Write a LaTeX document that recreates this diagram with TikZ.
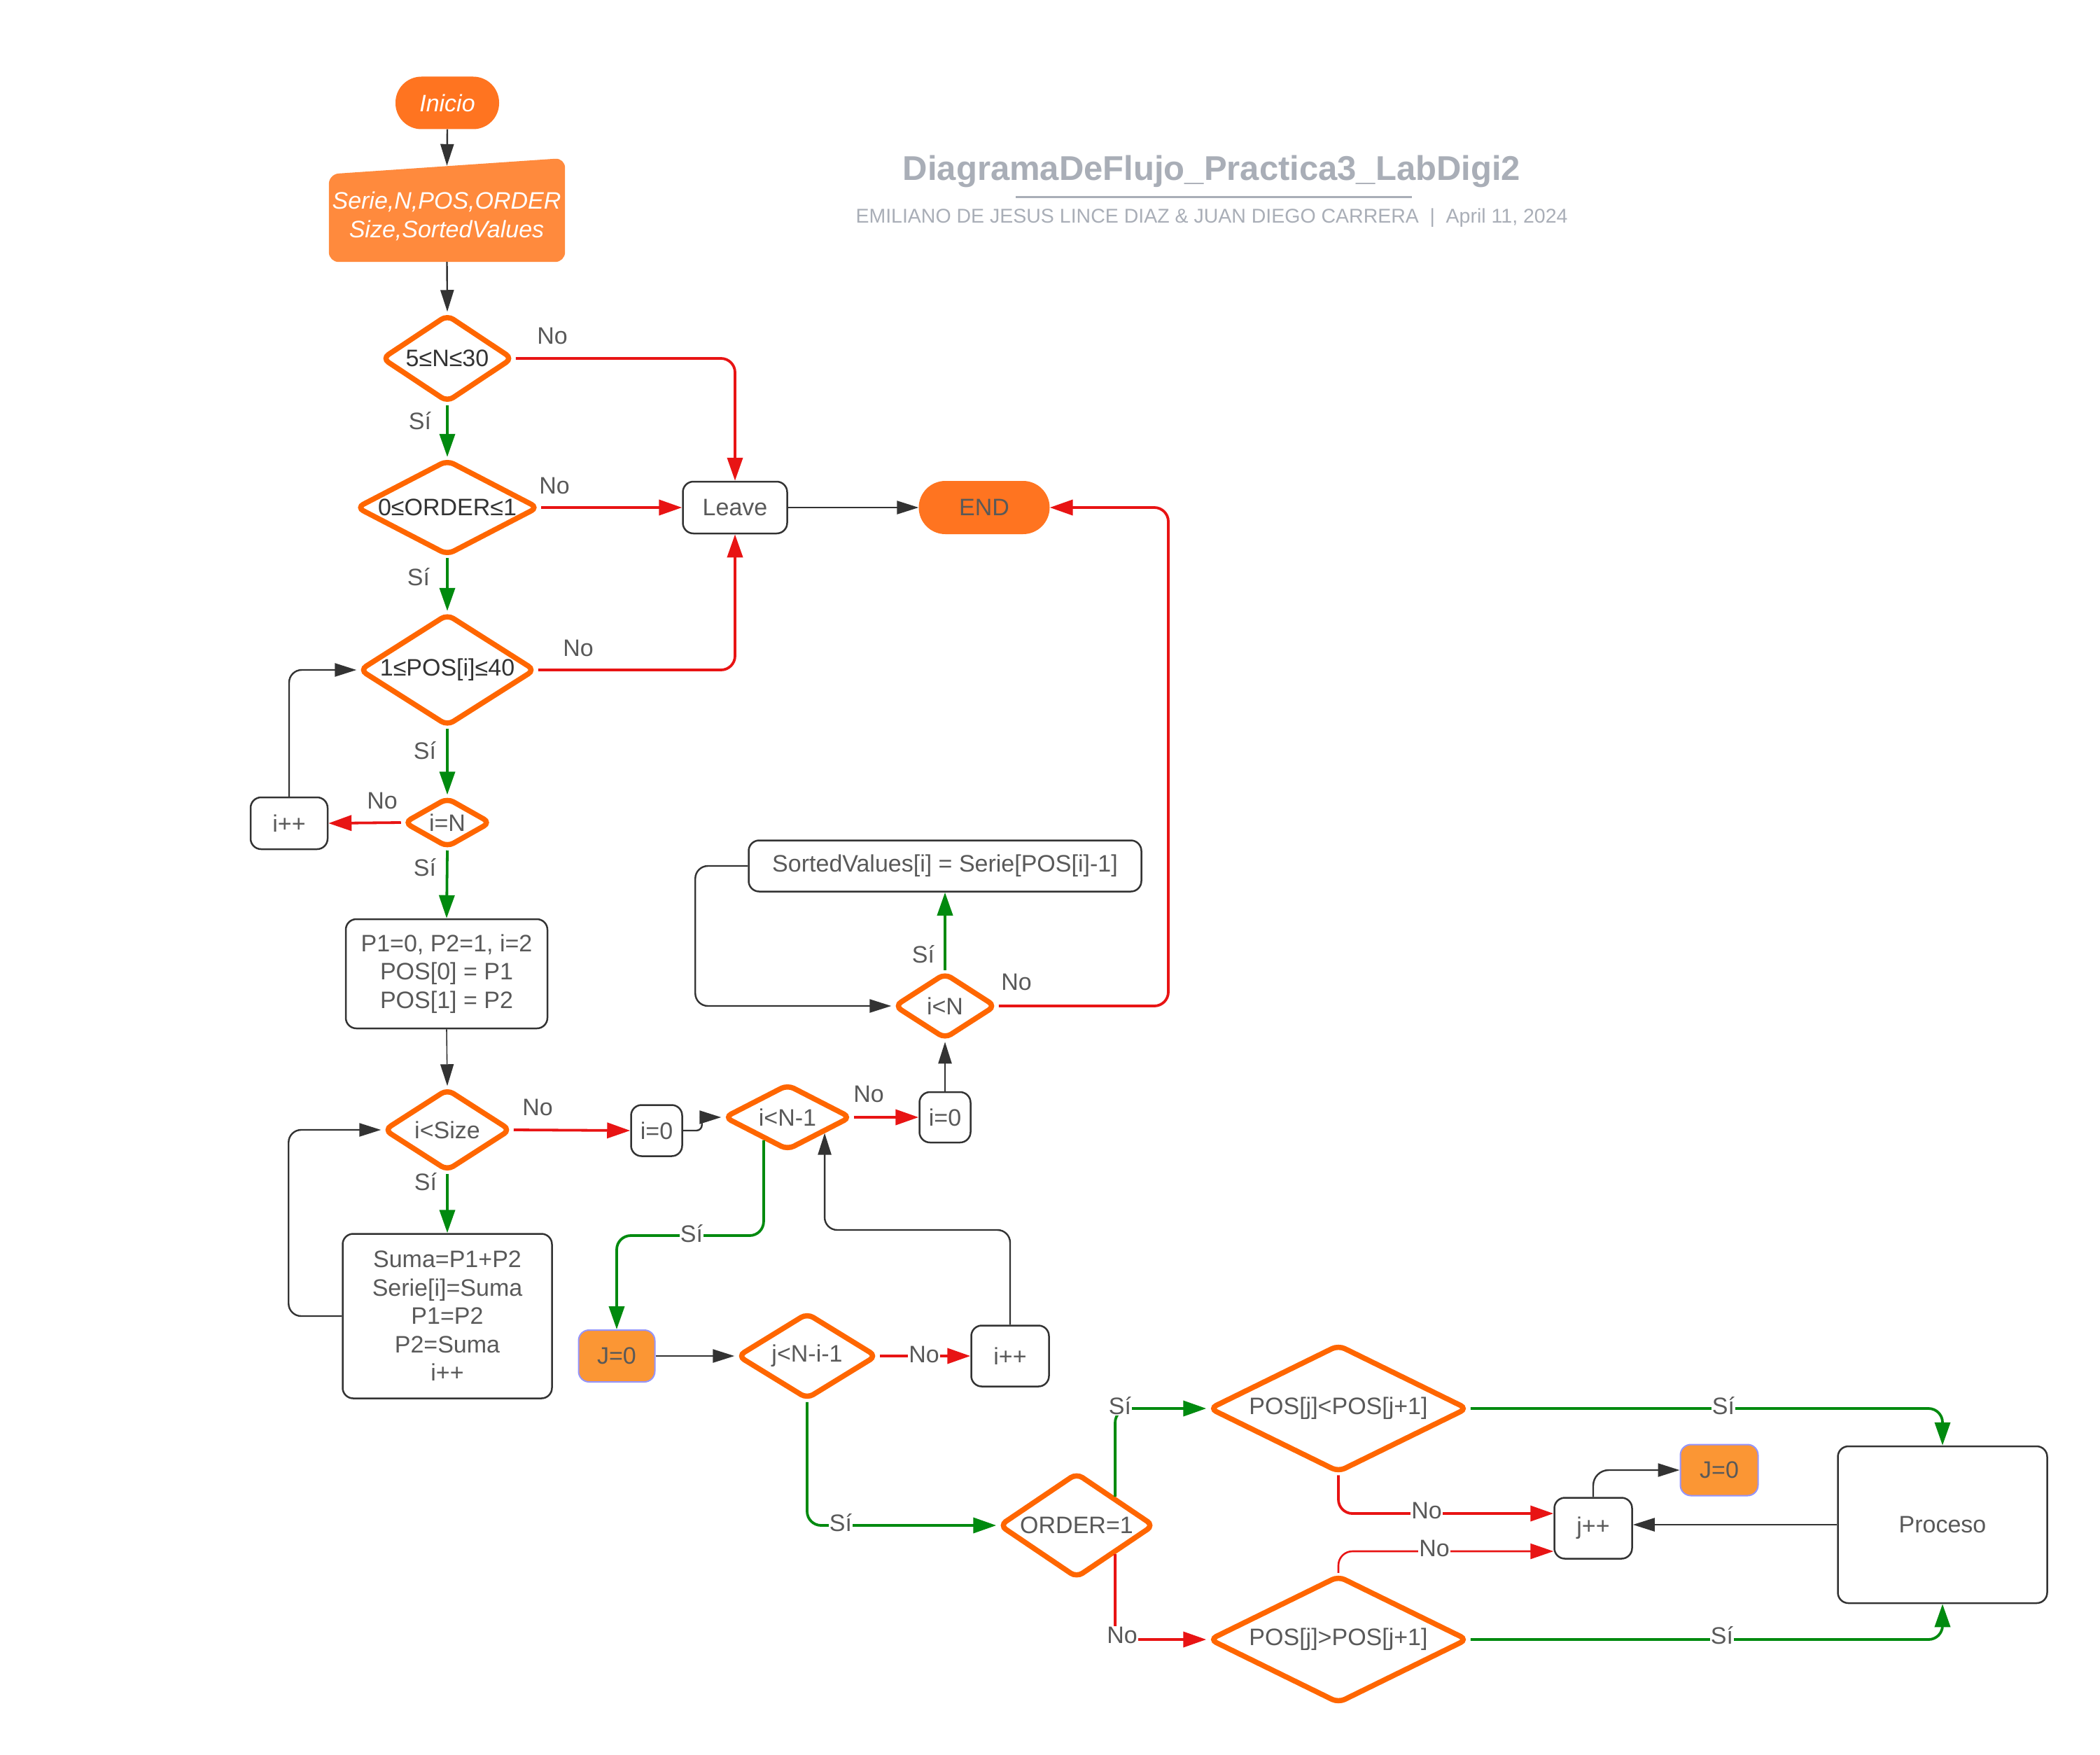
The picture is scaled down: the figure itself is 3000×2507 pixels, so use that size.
\documentclass[tikz,border=0pt]{standalone}
\usepackage{fontspec}
\setmainfont{Liberation Sans}
\usetikzlibrary{shapes.geometric,arrows.meta,calc}
\definecolor{orB}{HTML}{FF6600}
\definecolor{orF}{HTML}{FF7420}
\definecolor{orIn}{HTML}{FF8A3D}
\definecolor{orJ}{HTML}{FB9634}
\definecolor{bluJ}{HTML}{9494FF}
\definecolor{rd}{HTML}{E81414}
\definecolor{gn}{HTML}{008A0F}
\definecolor{bk}{HTML}{333333}
\definecolor{tx}{HTML}{595959}
\definecolor{ttl}{HTML}{A9AEB7}
\newcommand{\zw}[1]{\makebox[0pt]{#1}}
\begin{document}
\begin{tikzpicture}[x=1pt,y=-1pt,
  base/.style={font=\fontsize{34}{40.5}\selectfont, text=tx, align=center, inner sep=0pt},
  diam/.style={base, diamond, draw=orB, line width=7.5pt, rounded corners=10pt, fill=white},
  box/.style={base, rectangle, draw=bk, line width=2.5pt, rounded corners=15pt, fill=white},
  term/.style={base, rectangle, fill=orF, rounded corners=37pt},
  jbox/.style={base, rectangle, fill=orJ, draw=bluJ, line width=2pt, rounded corners=15pt},
  karr/.style={draw=bk, line width=2.4pt, -{Triangle[length=31pt,width=19pt]}, rounded corners=18pt},
  rarr/.style={draw=rd, line width=3.8pt, -{Triangle[length=33pt,width=22pt]}, rounded corners=20pt},
  garr/.style={draw=gn, line width=3.8pt, -{Triangle[length=33pt,width=22pt]}, rounded corners=20pt},
  lbl/.style={base},
  onl/.style={base, fill=white, inner sep=1pt}]
\fill[white] (0,0) rectangle (3000,2507);
\useasboundingbox (0,0) rectangle (3000,2507);

% title block
\node[font=\fontsize{49}{58}\selectfont\bfseries, text=ttl, anchor=base, inner sep=0pt] (title) at (1731,258) {DiagramaDeFlujo\_Practica3\_LabDigi2};
\draw[ttl, line width=3.5pt] (1451,281.5) -- (2017,281.5);
\node[font=\fontsize{28.5}{34}\selectfont, text=ttl, anchor=base, inner sep=0pt] (subtitle) at (1731,319) {EMILIANO DE JESUS LINCE DIAZ \& JUAN DIEGO CARRERA\hspace{0.55em}|\hspace{0.55em}April 11, 2024};

% terminals and input
\node[term, minimum width=148pt, minimum height=75pt, text=white, font=\fontsize{34}{40}\selectfont\itshape] (ini) at (639,147) {Inicio};
\node[minimum width=337pt, minimum height=137pt, inner sep=0pt] (inp) at (638.5,305.5) {};
\fill[orIn, rounded corners=14pt] (inp.south west) -- ($(inp.north west)+(0,12)$) -- ($(inp.north east)+(0,-11)$) -- (inp.south east) -- cycle;
\node[base, text=white, font=\fontsize{34}{40.5}\selectfont\itshape] (inptxt) at (638,309) {Serie,N,POS,ORDER\\Size,SortedValues};
\node[term, minimum width=187pt, minimum height=76pt, rounded corners=38pt] (endn) at (1406,725) {END};

% diamonds
\node[diam, text=bk, minimum width=188pt, minimum height=126pt] (d1) at (639,512) {\zw{5≤N≤30}};
\node[diam, text=bk, minimum width=261pt, minimum height=137pt] (d2) at (639,725) {\zw{0≤ORDER≤1}};
\node[diam, text=bk, minimum width=252pt, minimum height=161pt] (d3) at (639,957) {\zw{1≤POS[i]≤40}};
\node[diam, minimum width=125pt, minimum height=72pt] (d4) at (639,1175) {\zw{i=N}};
\node[diam, minimum width=182pt, minimum height=118pt] (d5) at (639,1614) {\zw{i<Size}};
\node[diam, minimum width=182pt, minimum height=95pt] (d6) at (1125,1596) {\zw{i<N-1}};
\node[diam, minimum width=146pt, minimum height=95pt] (d7) at (1350,1437) {\zw{i<N}};
\node[diam, minimum width=200pt, minimum height=124pt] (d8) at (1153,1937) {\zw{j<N-i-1}};
\node[diam, minimum width=222pt, minimum height=151pt] (d9) at (1538,2179) {\zw{ORDER=1}};
\node[diam, minimum width=370pt, minimum height=183pt] (d10) at (1912,2012) {\zw{POS[j]<POS[j+1]}};
\node[diam, minimum width=370pt, minimum height=183pt] (d11) at (1912,2342) {\zw{POS[j]>POS[j+1]}};

% boxes
\node[box, minimum width=149pt, minimum height=74pt] (leave) at (1050,725) {Leave};
\node[box, minimum width=110pt, minimum height=74pt] (ipp1) at (413,1176) {i++};
\node[box, minimum width=288pt, minimum height=156pt] (p1box) at (638,1391) {P1=0, P2=1, i=2\\POS[0] = P1\\POS[1] = P2};
\node[box, minimum width=299pt, minimum height=235pt] (sumbox) at (639,1880) {Suma=P1+P2\\Serie[i]=Suma\\P1=P2\\P2=Suma\\i++};
\node[box, minimum width=73pt, minimum height=73pt] (i0a) at (938,1615) {i=0};
\node[box, minimum width=73pt, minimum height=72pt] (i0b) at (1350,1596) {i=0};
\node[box, minimum width=561pt, minimum height=73pt] (sorted) at (1350,1237) {SortedValues[i] = Serie[POS[i]-1]};
\node[jbox, minimum width=109pt, minimum height=74pt] (j0a) at (881,1937) {J=0};
\node[box, minimum width=111pt, minimum height=87pt] (ipp2) at (1443,1937) {i++};
\node[box, minimum width=111pt, minimum height=87pt] (jpp) at (2276,2183) {j++};
\node[jbox, minimum width=111pt, minimum height=73pt] (j0b) at (2456,2100) {J=0};
\node[box, minimum width=299pt, minimum height=224pt] (proc) at (2775,2178) {Proceso};

% helper points on diamond edges
\coordinate (d6l) at ($(d6.south)!0.36!(d6.west)$);
\coordinate (d6r) at ($(d6.south)!0.56!(d6.east)$);
\coordinate (d9ur) at ($(d9.north)!0.48!(d9.east)$);
\coordinate (d9lr) at ($(d9.south)!0.48!(d9.east)$);

% connectors
\draw[karr] (ini.south) -- (inp.north);
\draw[karr] (inp.south) -- (d1.north);
\draw[garr] (d1.south) -- (d2.north);
\draw[rarr] (d1.east) -| (leave.north);
\draw[rarr] (d2.east) -- (leave.west);
\draw[karr] (leave.east) -- (endn.west);
\draw[garr] (d2.south) -- (d3.north);
\draw[rarr] (d3.east) -| (leave.south);
\draw[garr] (d3.south) -- (d4.north);
\draw[rarr] (d4.west) -- (ipp1.east);
\draw[karr] (ipp1.north) |- (d3.west);
\draw[garr] (d4.south) -- (p1box.north);
\draw[karr, line width=1.6pt] (p1box.south) -- (d5.north);
\draw[garr] (d5.south) -- (sumbox.north);
\draw[karr] (sumbox.west) -- ++(-76,0) |- (d5.west);
\draw[rarr] (d5.east) -- (i0a.west);
\draw[karr, rounded corners=8pt] (i0a.east) -- ++(27,0) |- (d6.west);
\draw[rarr] (d6.east) -- (i0b.west);
\draw[karr] (i0b.north) -- (d7.south);
\draw[garr] (d7.north) -- (sorted.south);
\draw[karr] (sorted.west) -- ++(-75,0) |- (d7.west);
\draw[rarr] (d7.east) -- (1669,1437) |- (endn.east);
\draw[garr] (d6l) |- (j0a.north |- 0,1765) -- (j0a.north);
\draw[karr] (ipp2.north) |- (d6r |- 0,1757) -- (d6r);
\draw[karr] (j0a.east) -- (d8.west);
\draw[rarr] (d8.east) -- (ipp2.west);
\draw[garr] (d8.south) |- (d9.west);
\draw[garr] (d9ur) |- (d10.west);
\draw[rarr] (d9lr) |- (d11.west);
\draw[garr] (d10.east) -| (proc.north);
\draw[garr] (d11.east) -| (proc.south);
\draw[rarr] (d10.south) |- (jpp.west |- 0,2162);
\draw[rarr, line width=2.6pt] (d11.north) |- (jpp.west |- 0,2216);
\draw[karr] (proc.west) -- (proc.west -| jpp.east);
\draw[karr, rounded corners=22pt] (jpp.north) |- (j0b.west);

% labels
\node[lbl] (l1) at (789,480) {No};
\node[lbl] (l2) at (600,601) {Sí};
\node[lbl] (l3) at (792,694) {No};
\node[lbl] (l4) at (598,824) {Sí};
\node[lbl] (l5) at (826,926) {No};
\node[lbl] (l6) at (607,1072) {Sí};
\node[lbl] (l7) at (546,1144) {No};
\node[lbl] (l8) at (607,1239) {Sí};
\node[lbl] (l9) at (768,1582) {No};
\node[lbl] (l10) at (608,1688) {Sí};
\node[lbl] (l11) at (1241,1563) {No};
\node[onl] (l12) at (988,1762) {Sí};
\node[lbl] (l13) at (1319,1363) {Sí};
\node[lbl] (l14) at (1452,1403) {No};
\node[onl] (l15) at (1320,1935) {No};
\node[onl] (l16) at (1201,2175) {Sí};
\node[onl] (l17) at (1600,2008) {Sí};
\node[onl] (l18) at (1603,2336) {No};
\node[onl] (l19) at (2462,2008) {Sí};
\node[onl] (l20) at (2460,2336) {Sí};
\node[onl] (l21) at (2038,2158) {No};
\node[onl] (l22) at (2049,2212) {No};
\end{tikzpicture}
\end{document}
